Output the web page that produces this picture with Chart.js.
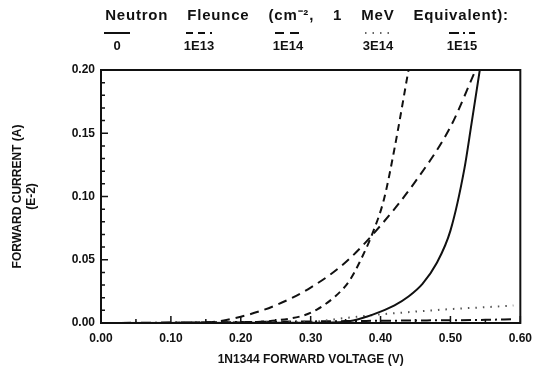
<!DOCTYPE html>
<html>
<head>
<meta charset="utf-8">
<script src="https://cdn.jsdelivr.net/npm/chart.js@4/dist/chart.umd.min.js"></script>
<style>
  html, body { margin: 0; padding: 0; background: #fff; }
  #wrap { width: 540px; height: 385px; }
</style>
</head>
<body>
<div id="wrap"><canvas id="diodeChart" width="540" height="385"></canvas></div>
<script>
// Series: forward voltage (V) vs forward current (A, E-2)
const fluenceLabels = ['0', '1E13', '1E14', '3E14', '1E15'];

const volt0 = [0, 0.30, 0.35, 0.38, 0.40, 0.42, 0.44, 0.46, 0.48, 0.50, 0.52, 0.53, 0.542];
const curr0 = [0, 0.0002, 0.001, 0.005, 0.009, 0.014, 0.021, 0.031, 0.047, 0.073, 0.122, 0.157, 0.20];

const volt1E13 = [0, 0.20, 0.25, 0.29, 0.31, 0.335, 0.355, 0.37, 0.39, 0.405, 0.42, 0.44];
const curr1E13 = [0, 0.0005, 0.002, 0.006, 0.011, 0.021, 0.033, 0.048, 0.073, 0.098, 0.138, 0.20];

const volt1E14 = [0, 0.15, 0.20, 0.25, 0.30, 0.35, 0.40, 0.45, 0.50, 0.536];
const curr1E14 = [0, 0.0005, 0.005, 0.014, 0.028, 0.048, 0.077, 0.112, 0.155, 0.20];

const volt3E14 = [0, 0.30, 0.35, 0.40, 0.45, 0.50, 0.55, 0.59];
const curr3E14 = [0, 0.001, 0.004, 0.0068, 0.009, 0.011, 0.0125, 0.0138];

const volt1E15 = [0, 0.15, 0.25, 0.35, 0.45, 0.55, 0.59];
const curr1E15 = [0, 0.0005, 0.001, 0.0015, 0.002, 0.0025, 0.003];

const xTicks = [0, 0.1, 0.2, 0.3, 0.4, 0.5, 0.6];
const yTicks = [0, 0.05, 0.10, 0.15, 0.20];

const dashes = [[], [7, 5], [9, 6], [1.5, 6], [10, 4, 2, 4]];

function pts(xs, ys) {
    return xs.map((x, i) => ({ x: x, y: ys[i] }));
}

const seriesData = [
    pts(volt0, curr0),
    pts(volt1E13, curr1E13),
    pts(volt1E14, curr1E14),
    pts(volt3E14, curr3E14),
    pts(volt1E15, curr1E15)
];

const FONT = '"Liberation Sans", Arial, sans-serif';

// Legend across the top, drawn from the datasets
const fluenceLegend = {
    id: 'fluenceLegend',
    afterDraw(chart) {
        const c = chart.ctx;
        c.save();
        c.fillStyle = '#111';
        c.textAlign = 'center';
        c.textBaseline = 'middle';
        c.font = 'bold 15px ' + FONT;
        c.wordSpacing = '14px';
        c.letterSpacing = '0.8px';
        c.fillText('Neutron Fleunce (cm\u207B\u00B2, 1 MeV Equivalent):', 307, 16);
        c.wordSpacing = '0px';
        c.letterSpacing = '0px';
        const centers = [117, 199, 288, 378, 462];
        chart.data.datasets.forEach((ds, i) => {
            const cx = centers[i];
            c.strokeStyle = i === 3 ? '#666' : '#111';
            c.lineWidth = 2;
            c.setLineDash(ds.borderDash || []);
            c.beginPath();
            c.moveTo(cx - 13, 33);
            c.lineTo(cx + 13, 33);
            c.stroke();
            c.setLineDash([]);
            c.font = 'bold 13px ' + FONT;
            c.fillText(ds.label, cx, 46);
        });
        c.restore();
    }
};

// Frame plus inward ticks
const frameTicks = {
    id: 'frameTicks',
    afterDatasetsDraw(chart) {
        const c = chart.ctx;
        const a = chart.chartArea;
        const xs = chart.scales.x;
        const ys = chart.scales.y;
        c.save();
        c.strokeStyle = '#111';
        c.lineWidth = 2;
        c.strokeRect(a.left, a.top, a.right - a.left, a.bottom - a.top);
        c.lineWidth = 1.5;
        c.beginPath();
        for (let k = 0; k <= 20; k++) {
            const py = ys.getPixelForValue(k * 0.01);
            const len = k % 5 === 0 ? 7 : 4;
            c.moveTo(a.left, py);
            c.lineTo(a.left + len, py);
        }
        for (let k = 0; k <= 12; k++) {
            const px = xs.getPixelForValue(k * 0.05);
            const len = k % 2 === 0 ? 7 : 4;
            c.moveTo(px, a.bottom);
            c.lineTo(px, a.bottom - len);
        }
        c.stroke();
        c.restore();
    }
};

const ctx = document.getElementById('diodeChart').getContext('2d');
const diodeChart = new Chart(ctx, {
    type: 'line',
    data: {
        datasets: seriesData.map((d, i) => ({
            label: fluenceLabels[i],
            data: d,
            borderColor: i === 3 ? '#555' : '#111',
            borderWidth: 2,
            borderDash: dashes[i],
            pointRadius: 0,
            fill: false,
            cubicInterpolationMode: 'monotone'
        }))
    },
    options: {
        responsive: false,
        animation: false,
        layout: { padding: { left: 0, right: 17, top: 70, bottom: 0 } },
        plugins: {
            legend: { display: false },
            tooltip: { enabled: false }
        },
        scales: {
            x: {
                type: 'linear',
                min: 0,
                max: 0.6,
                afterBuildTicks: s => { s.ticks = xTicks.map(v => ({ value: v })); },
                afterFit: s => { s.height = 62; },
                grid: { display: false, drawTicks: false },
                border: { display: false },
                ticks: {
                    color: '#111',
                    padding: 8,
                    maxRotation: 0,
                    font: { family: FONT, size: 12, weight: 'bold' },
                    callback: v => v.toFixed(2)
                },
                title: {
                    display: true,
                    text: '1N1344 FORWARD VOLTAGE (V)',
                    color: '#111',
                    padding: { top: 0, bottom: 18 },
                    font: { family: FONT, size: 12, weight: 'bold' }
                }
            },
            y: {
                type: 'linear',
                min: 0,
                max: 0.2,
                afterBuildTicks: s => { s.ticks = yTicks.map(v => ({ value: v })); },
                afterFit: s => { s.width = 101; },
                grid: { display: false, drawTicks: false },
                border: { display: false },
                ticks: {
                    color: '#111',
                    padding: 6,
                    font: { family: FONT, size: 12, weight: 'bold' },
                    callback: v => v.toFixed(2)
                },
                title: {
                    display: true,
                    text: ['FORWARD CURRENT (A)', '(E-2)'],
                    color: '#111',
                    padding: { top: 10, bottom: 0 },
                    font: { family: FONT, size: 12, weight: 'bold' }
                }
            }
        }
    },
    plugins: [fluenceLegend, frameTicks]
});
</script>
</body>
</html>
